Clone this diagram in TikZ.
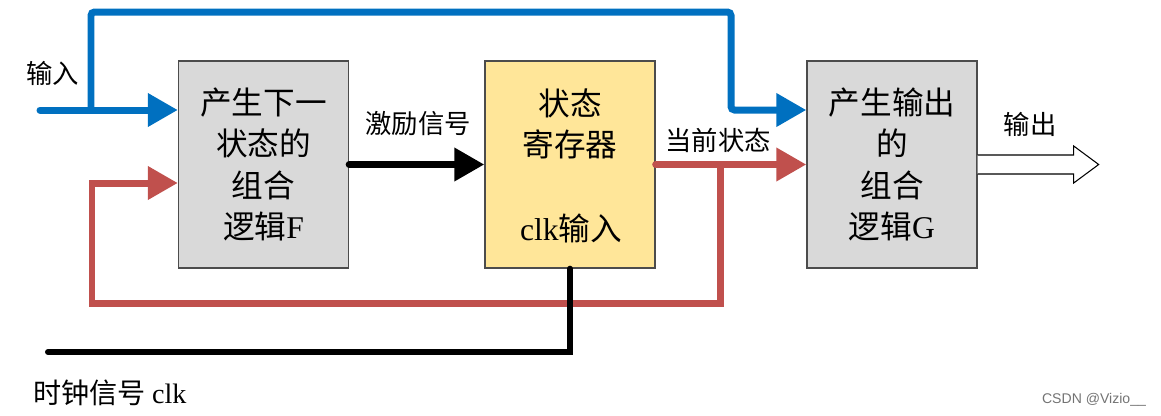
\documentclass[tikz,border=0pt]{standalone}
\usepackage{fontspec}
\setmainfont{Liberation Serif}
\newfontfamily\cjk{Noto Sans CJK SC}
\newfontfamily\wmfont{Liberation Sans}
\usetikzlibrary{arrows.meta, positioning, calc}
\definecolor{wireblue}{HTML}{0070C0}
\definecolor{wirered}{HTML}{C0504D}
\definecolor{boxgray}{HTML}{D9D9D9}
\definecolor{boxyellow}{HTML}{FFE699}
\newcommand\lat[1]{{\rmfamily #1}}
\tikzset{
  logicbox/.style={draw=black!70, line width=0.8pt, fill=boxgray, minimum width=3.4cm,
    minimum height=4.14cm, align=center, inner sep=0pt, font=\fontsize{18}{23.5}\selectfont\cjk},
  wire/.style={line width=0.14cm, line cap=round},
  arrowwire/.style={wire, -{Triangle[length=0.6cm,width=0.64cm]}},
  lbl/.style={font=\fontsize{15}{18}\selectfont\cjk, inner sep=0pt},
  boxtext/.style={font=\fontsize{18}{23.5}\selectfont\cjk, align=center, inner sep=0pt}
}

\begin{document}
\begin{tikzpicture}[x=0.02cm, y=-0.02cm]
    \useasboundingbox (0,0) rectangle (1161,416);
    % three blocks
    \node[logicbox] (F) at (263.5,164.5) {产生下一\\状态的\\组合\\逻辑\lat{F}};
    \node[logicbox, fill=boxyellow] (R) at (570,164.5) {};
    \node[boxtext] (Rname) at (570,124) {状态\\寄存器};
    \node[boxtext] (Rclk) at (571,228) {\lat{clk}输入};
    \node[logicbox] (G) at (892,164.5) {产生输出\\的\\组合\\逻辑\lat{G}};

    % input (blue)
    \coordinate (inL) at (40,110);
    \coordinate (bj) at (91,110);
    \coordinate (btop) at (91,12);
    \coordinate (bdrop) at (731,110);
    \draw[arrowwire, wireblue] (inL) -- (F.west |- inL);
    \draw[arrowwire, wireblue, rounded corners=2pt] (bj) |- (bdrop |- btop) -- (bdrop) -- (G.west |- bdrop);
    \node[lbl] (inlbl) at (53,73) {输入};

    % excitation (black)
    \draw[arrowwire] (F.east) -- (R.west);
    \node[lbl] (exc) at (418,124) {激励信号};

    % current state (red)
    \coordinate (rj) at (720,164.5);
    \coordinate (rbot) at (92,303);
    \coordinate (rin) at ($(F.west)+(0,18.5)$);
    \draw[arrowwire, wirered] (R.east) -- (G.west);
    \draw[arrowwire, wirered] (rj) |- (rbot) |- (rin);
    \node[lbl] (cur) at (718,140) {当前状态};

    % clock
    \coordinate (clkL) at (48,352);
    \draw[wire, line width=0.12cm] (clkL) -| (R.south);
    \node[lbl, font=\fontsize{16}{18}\selectfont\cjk, anchor=west] (clkname) at (33,393) {时钟信号\ \lat{clk}};

    % output
    \draw[line width=0.6pt, fill=white] ($(G.east)+(0,-9.5)$) -- ++(96,0) -- ++(0,-9)
        -- ($(G.east)+(121,0)$) -- ($(G.east)+(96,18.5)$) -- ++(0,-9) -- ($(G.east)+(0,9.5)$);
    \node[lbl] (outlbl) at (1030,124) {输出};

    \node[font=\fontsize{8}{10}\selectfont\wmfont, text=black!55, inner sep=0pt] (wm) at (1094,400) {CSDN @Vizio\_\_};
\end{tikzpicture}
\end{document}
